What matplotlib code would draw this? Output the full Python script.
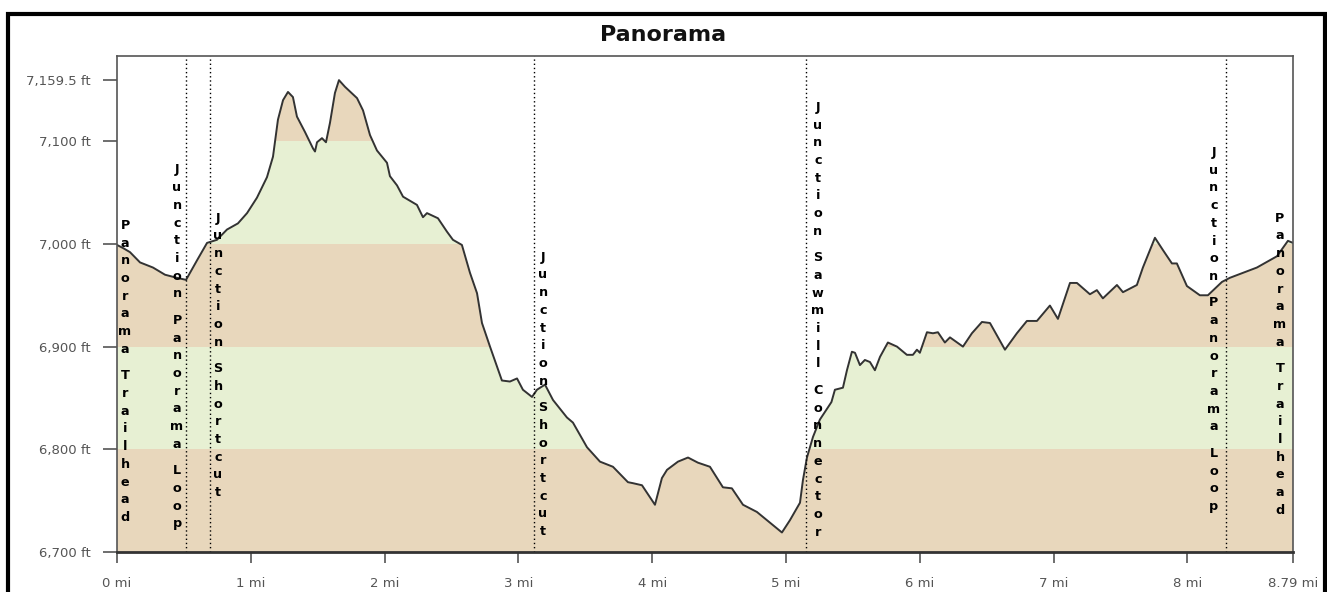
import matplotlib
matplotlib.use("Agg")
import matplotlib.pyplot as plt
from matplotlib.patches import Rectangle

# ---------------- data ----------------
dist_mi = [0.000, 0.045, 0.097, 0.172, 0.269, 0.359, 0.448, 0.516, 0.598, 0.673,
           0.747, 0.822, 0.904, 0.972, 1.046, 1.121, 1.166, 1.203, 1.241, 1.278,
           1.315, 1.345, 1.405, 1.465, 1.480, 1.495, 1.532, 1.562, 1.592, 1.629,
           1.659, 1.704, 1.794, 1.839, 1.891, 1.943, 2.018, 2.040, 2.093, 2.138,
           2.242, 2.287, 2.317, 2.399, 2.466, 2.511, 2.578, 2.638, 2.691, 2.728,
           2.788, 2.877, 2.937, 2.990, 3.034, 3.102, 3.139, 3.199, 3.259, 3.363,
           3.408, 3.513, 3.610, 3.707, 3.819, 3.857, 3.924, 4.021, 4.073, 4.111,
           4.193, 4.268, 4.342, 4.432, 4.529, 4.596, 4.679, 4.783, 4.858, 4.970,
           5.030, 5.105, 5.127, 5.157, 5.202, 5.254, 5.340, 5.366, 5.426, 5.456,
           5.493, 5.516, 5.553, 5.590, 5.628, 5.665, 5.703, 5.762, 5.830, 5.904,
           5.949, 5.979, 6.001, 6.054, 6.099, 6.136, 6.188, 6.226, 6.323, 6.390,
           6.465, 6.525, 6.637, 6.726, 6.801, 6.876, 6.973, 7.033, 7.123, 7.175,
           7.272, 7.324, 7.369, 7.474, 7.519, 7.623, 7.668, 7.758, 7.818, 7.885,
           7.922, 7.997, 8.094, 8.154, 8.259, 8.318, 8.520, 8.670, 8.752, 8.790]
elev_ft = [6999, 6996, 6992, 6982, 6977, 6970, 6967, 6965, 6984, 7001,
           7004, 7014, 7020, 7030, 7045, 7065, 7085, 7121, 7140, 7148,
           7143, 7124, 7109, 7093, 7090, 7099, 7103, 7099, 7118, 7147,
           7159.5, 7153, 7142, 7130, 7106, 7091, 7079, 7066, 7057, 7046,
           7038, 7026, 7030, 7025, 7012, 7004, 6999, 6972, 6952, 6923,
           6900, 6867, 6866, 6869, 6858, 6851, 6858, 6863, 6848, 6831,
           6826, 6802, 6788, 6783, 6768, 6767, 6765, 6746, 6772, 6780,
           6788, 6792, 6787, 6783, 6763, 6762, 6746, 6739, 6731, 6719,
           6731, 6748, 6770, 6792, 6812, 6829, 6846, 6858, 6860, 6877,
           6895, 6894, 6882, 6887, 6885, 6877, 6890, 6904, 6900, 6892,
           6892, 6897, 6894, 6914, 6913, 6914, 6904, 6909, 6900, 6913,
           6924, 6923, 6897, 6913, 6925, 6925, 6940, 6927, 6962, 6962,
           6951, 6955, 6947, 6960, 6953, 6960, 6977, 7006, 6994, 6981,
           6981, 6959, 6950, 6950, 6963, 6967, 6977, 6988, 7003, 7001]

waypoint_names = ["Panorama Trailhead", "Junction Panorama Loop", "Junction Shortcut",
                  "Junction Shortcut", "Junction Sawmill Connector",
                  "Junction Panorama Loop", "Panorama Trailhead"]
waypoint_mi = [0.0, 0.516, 0.695, 3.117, 5.149, 8.288, 8.79]

yticks_ft = [6700, 6800, 6900, 7000, 7100, 7159.5]
ytick_labels = ["6,700 ft", "6,800 ft", "6,900 ft", "7,000 ft", "7,100 ft", "7,159.5 ft"]
xticks_mi = [0, 1, 2, 3, 4, 5, 6, 7, 8, 8.79]
xtick_labels = ["0 mi", "1 mi", "2 mi", "3 mi", "4 mi", "5 mi", "6 mi", "7 mi", "8 mi", "8.79 mi"]

band_edges = [6700, 6800, 6900, 7000, 7100, 7183]

# ---------------- layout / style ----------------
label_top_ft = [7018, 7072, 7025, 6987, 7133, 7089, 7025]
label_dx_px = [8, -9, 8, 9, 12, -12, -13]
TAN = "#e8d7bc"
GREEN = "#e7f0d3"

W, H = 1327, 592
fig = plt.figure(figsize=(W / 100, H / 100), dpi=100)
fig.patch.set_facecolor("white")
ax = fig.add_axes([117 / W, 1 - 552 / H, (1293 - 117) / W, (552 - 56) / H])
ax.set_xlim(0, 8.79)
ax.set_ylim(6700, band_edges[-1])

# area under profile (used as clip for the bands)
under = ax.fill_between(dist_mi, elev_ft, 6700, facecolor="none", edgecolor="none", zorder=1)
clip_path = under.get_paths()[0]
for i in range(len(band_edges) - 1):
    col = TAN if i % 2 == 0 else GREEN
    b = ax.axhspan(band_edges[i], band_edges[i + 1], facecolor=col, edgecolor="none", zorder=0)
    b.set_clip_path(clip_path, ax.transData)

ax.plot(dist_mi, elev_ft, color="#333333", lw=1.4, zorder=3)

# waypoint dotted lines (not at the two ends)
for m in waypoint_mi[1:-1]:
    ax.axvline(m, color="black", lw=1.0, linestyle=(0, (1, 2)), zorder=4)

# stacked vertical labels
step_pt = 17.7 * 0.72
for name, m, top, dx in zip(waypoint_names, waypoint_mi, label_top_ft, label_dx_px):
    pos = 0.0
    for ch in name:
        if ch == " ":
            pos += 0.5
            continue
        ax.annotate(ch, xy=(m, top), xytext=(dx * 0.72, -pos * step_pt),
                    textcoords="offset points", ha="center", va="center",
                    fontsize=9.2, fontweight="bold", color="black",
                    family="DejaVu Sans", zorder=5, annotation_clip=False)
        pos += 1.0

# ticks
ax.set_yticks(yticks_ft)
ax.set_yticklabels(ytick_labels)
ax.set_xticks(xticks_mi)
ax.set_xticklabels(xtick_labels)
ax.tick_params(axis="y", direction="out", length=10, width=1.2, color="#555555",
               pad=9, labelsize=9.5, labelcolor="#555555")
ax.tick_params(axis="x", direction="out", length=8, width=1.2, color="#555555",
               pad=10, labelsize=9.5, labelcolor="#555555")

for s in ["top", "right", "left"]:
    ax.spines[s].set_color("#555555")
    ax.spines[s].set_linewidth(1.2)
ax.spines["bottom"].set_color("#333333")
ax.spines["bottom"].set_linewidth(2.0)
for s in ax.spines.values():
    s.set_zorder(6)

fig.text(0.5, 1 - 35 / H, "Panorama", ha="center", va="center",
         fontsize=16, fontweight="bold", color="#111111")

# outer black frame (bottom edge outside the image)
fig.patches.append(Rectangle((8 / W, -0.2), (1325 - 8) / W, (1 - 14 / H) + 0.2,
                             transform=fig.transFigure, fill=False,
                             edgecolor="black", lw=3.0, clip_on=False))

fig.savefig("out.png", dpi=100)
